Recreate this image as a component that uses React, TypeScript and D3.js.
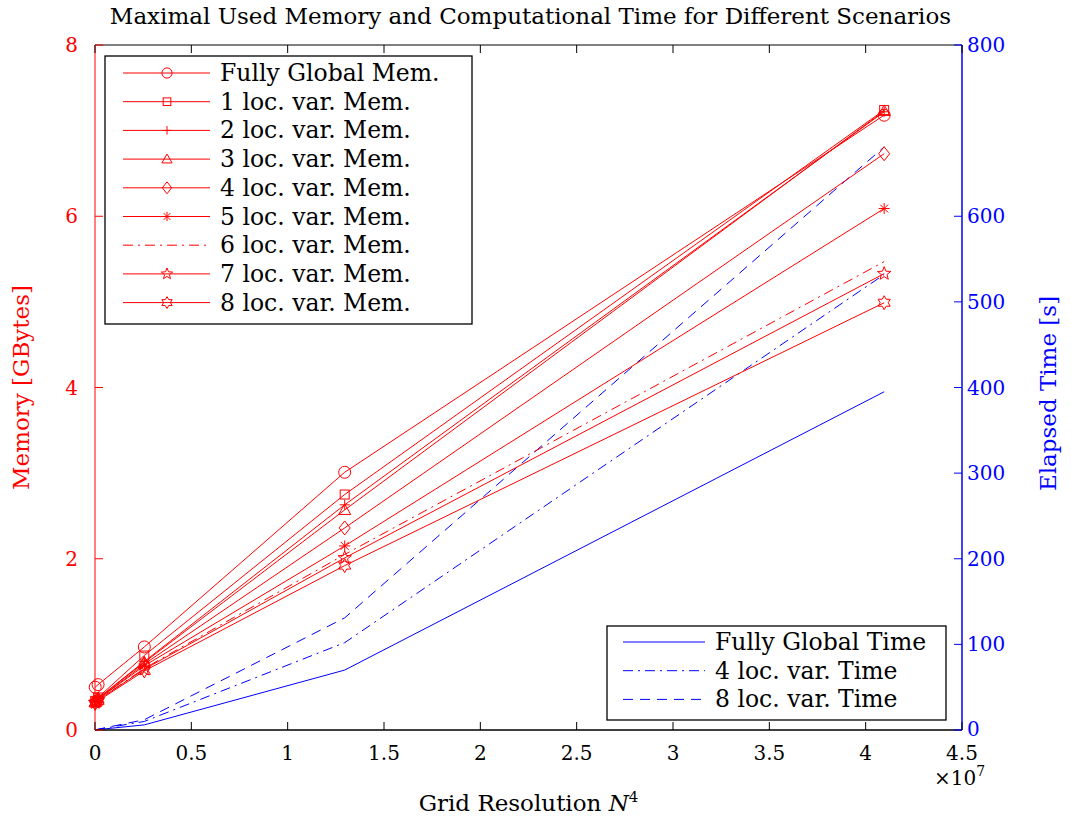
import React from "react";
import * as d3 from "d3";

const gridPoints = [1e4, 1.6e5, 2.56e6, 1.296e7, 4.096e7];

const memFullyGlobal = [0.5, 0.53, 0.97, 3.01, 7.18];
const memLoc1 = [0.34, 0.38, 0.87, 2.75, 7.24];
const memLoc2 = [0.33, 0.37, 0.8, 2.63, 7.22];
const memLoc3 = [0.33, 0.37, 0.79, 2.57, 7.23];
const memLoc4 = [0.33, 0.36, 0.77, 2.36, 6.73];
const memLoc5 = [0.32, 0.36, 0.75, 2.15, 6.09];
const memLoc6 = [0.32, 0.35, 0.72, 2.05, 5.47];
const memLoc7 = [0.32, 0.35, 0.71, 2.01, 5.33];
const memLoc8 = [0.31, 0.34, 0.69, 1.92, 4.99];

const timeFullyGlobal = [0, 0.5, 6, 70, 395];
const timeLoc4 = [0, 0.8, 10, 102, 532];
const timeLoc8 = [0, 0.9, 12, 131, 681];

const memLabels = [
  "Fully Global Mem.",
  "1 loc. var. Mem.",
  "2 loc. var. Mem.",
  "3 loc. var. Mem.",
  "4 loc. var. Mem.",
  "5 loc. var. Mem.",
  "6 loc. var. Mem.",
  "7 loc. var. Mem.",
  "8 loc. var. Mem.",
];
const memMarkers = ["circle", "square", "plus", "triangle", "diamond", "asterisk", "none", "pentagram", "hexagram"];
const memDash = ["", "", "", "", "", "", "dashdot", "", ""];
const timeLabels = ["Fully Global Time", "4 loc. var. Time", "8 loc. var. Time"];
const timeDash = ["", "dashdot", "dashed"];

const xTicks = [0, 0.5e7, 1e7, 1.5e7, 2e7, 2.5e7, 3e7, 3.5e7, 4e7, 4.5e7];
const memTicks = [0, 2, 4, 6, 8];
const timeTicks = [0, 100, 200, 300, 400, 500, 600, 800];

const W = 1071;
const H = 820;
const M = { left: 95, right: 962, top: 45, bottom: 730 };
const RED = "#ff0000";
const BLUE = "#0000ff";
const FONT = "'DejaVu Serif', 'Liberation Serif', serif";

const dashMap: Record<string, string | undefined> = {
  "": undefined,
  dashdot: "10,5,2,5",
  dashed: "10,7",
};

function starPath(n: number, rOut: number, rIn: number) {
  const pts: [number, number][] = [];
  for (let i = 0; i < 2 * n; i++) {
    const a = -Math.PI / 2 + (i * Math.PI) / n;
    const r = i % 2 === 0 ? rOut : rIn;
    pts.push([r * Math.cos(a), r * Math.sin(a)]);
  }
  return "M" + pts.map((p) => p[0].toFixed(2) + "," + p[1].toFixed(2)).join("L") + "Z";
}

function Marker({ type, x, y, color, s = 1 }: { type: string; x: number; y: number; color: string; s?: number }) {
  const common = { fill: "none", stroke: color, strokeWidth: 1 };
  const t = `translate(${x},${y})`;
  switch (type) {
    case "circle":
      return <circle cx={x} cy={y} r={6 * s} {...common} />;
    case "square":
      return <rect x={x - 4.5 * s} y={y - 4.5 * s} width={9 * s} height={9 * s} {...common} />;
    case "plus":
      return <path transform={t} d={`M${-5 * s},0H${5 * s}M0,${-5 * s}V${5 * s}`} {...common} />;
    case "triangle":
      return <path transform={t} d={`M0,${-6 * s}L${6 * s},${4.5 * s}L${-6 * s},${4.5 * s}Z`} {...common} />;
    case "diamond":
      return <path transform={t} d={`M0,${-7 * s}L${5.5 * s},0L0,${7 * s}L${-5.5 * s},0Z`} {...common} />;
    case "asterisk": {
      const r = 5.5 * s;
      const d = r * 0.72;
      return (
        <path
          transform={t}
          d={`M${-r},0H${r}M0,${-r}V${r}M${-d},${-d}L${d},${d}M${-d},${d}L${d},${-d}`}
          {...common}
        />
      );
    }
    case "pentagram":
      return <path transform={t} d={starPath(5, 7 * s, 3 * s)} {...common} />;
    case "hexagram":
      return <path transform={t} d={starPath(6, 7 * s, 4 * s)} {...common} />;
    default:
      return null;
  }
}

export default function App() {
  const x = d3.scaleLinear().domain([0, 4.5e7]).range([M.left, M.right]);
  const yMem = d3.scaleLinear().domain([0, 8]).range([M.bottom, M.top]);
  const yTime = d3.scaleLinear().domain([0, 800]).range([M.bottom, M.top]);

  const memSeries = [memFullyGlobal, memLoc1, memLoc2, memLoc3, memLoc4, memLoc5, memLoc6, memLoc7, memLoc8];
  const timeSeries = [timeFullyGlobal, timeLoc4, timeLoc8];

  const lineMem = d3
    .line<number>()
    .x((_, i) => x(gridPoints[i]))
    .y((d) => yMem(d));
  const lineTime = d3
    .line<number>()
    .x((_, i) => x(gridPoints[i]))
    .y((d) => yTime(d));

  const tickLen = 8;
  const legRowH = 28.7;
  const tickFs = 20;
  const legFs = 23.5;

  return (
    <svg width={W} height={H} style={{ display: "block", position: "absolute", left: 0, top: 0 }} fontFamily={FONT}>
      <rect width={W} height={H} fill="#fff" />
      <text x={(M.left + M.right) / 2 + 2} y={24} textAnchor="middle" fontSize={23} fill="#000">
        Maximal Used Memory and Computational Time for Different Scenarios
      </text>

      {timeSeries.map((s, i) => (
        <path key={"t" + i} d={lineTime(s) || ""} fill="none" stroke={BLUE} strokeWidth={1} strokeDasharray={dashMap[timeDash[i]]} />
      ))}

      {memSeries.map((s, i) => (
        <path key={"m" + i} d={lineMem(s) || ""} fill="none" stroke={RED} strokeWidth={1} strokeDasharray={dashMap[memDash[i]]} />
      ))}
      {memSeries.map((s, i) =>
        s.map((v, j) => <Marker key={`mk${i}-${j}`} type={memMarkers[i]} x={x(gridPoints[j])} y={yMem(v)} color={RED} />)
      )}

      <line x1={M.left} x2={M.right} y1={M.top} y2={M.top} stroke="#000" strokeWidth={1} />
      <line x1={M.left} x2={M.right} y1={M.bottom} y2={M.bottom} stroke="#000" strokeWidth={1.5} />
      <line x1={M.left} x2={M.left} y1={M.top} y2={M.bottom} stroke={RED} strokeWidth={1} />
      <line x1={M.right} x2={M.right} y1={M.top} y2={M.bottom} stroke={BLUE} strokeWidth={1.5} />

      {xTicks.map((t, i) => (
        <g key={"xt" + i}>
          <line x1={x(t)} x2={x(t)} y1={M.bottom} y2={M.bottom - tickLen} stroke="#000" />
          <line x1={x(t)} x2={x(t)} y1={M.top} y2={M.top + tickLen} stroke="#000" />
          <text x={x(t)} y={760} textAnchor="middle" fontSize={tickFs} fill="#000">
            {d3.format("~g")(t / 1e7)}
          </text>
        </g>
      ))}
      <text x={934} y={785} fontSize={tickFs} fill="#000">
        ×10
        <tspan dy={-9} fontSize={14}>
          7
        </tspan>
      </text>
      <text x={(M.left + M.right) / 2} y={811} textAnchor="middle" fontSize={23} fill="#000">
        Grid Resolution <tspan fontStyle="italic">N</tspan>
        <tspan dy={-9} fontSize={15}>
          4
        </tspan>
      </text>

      {memTicks.map((t, i) => (
        <g key={"ml" + i}>
          <line x1={M.left} x2={M.left + tickLen} y1={yMem(t)} y2={yMem(t)} stroke={RED} />
          <text x={78} y={yMem(t) + 7} textAnchor="end" fontSize={tickFs} fill={RED}>
            {t}
          </text>
        </g>
      ))}
      <text transform={`translate(29,${(M.top + M.bottom) / 2}) rotate(-90)`} textAnchor="middle" fontSize={23} fill={RED}>
        Memory [GBytes]
      </text>

      {timeTicks.map((t, i) => (
        <g key={"tr" + i}>
          <line x1={M.right} x2={M.right - tickLen} y1={yTime(t)} y2={yTime(t)} stroke={BLUE} />
          <text x={967} y={yTime(t) + (t === 0 ? 6 : 7)} textAnchor="start" fontSize={tickFs} fill={BLUE}>
            {t}
          </text>
        </g>
      ))}
      <text transform={`translate(1056,${(M.top + M.bottom) / 2 + 6}) rotate(-90)`} textAnchor="middle" fontSize={23} fill={BLUE}>
        Elapsed Time [s]
      </text>

      <rect x={105} y={56} width={367} height={268} fill="#fff" stroke="#000" strokeWidth={1.3} />
      {memLabels.map((lab, i) => {
        const cy = 73 + i * legRowH;
        return (
          <g key={"lm" + i}>
            <line x1={123} x2={210} y1={cy} y2={cy} stroke={RED} strokeDasharray={dashMap[memDash[i]]} />
            <Marker type={memMarkers[i]} x={167} y={cy} color={RED} s={0.85} />
            <text x={220} y={cy + 8} fontSize={legFs} fill="#000">
              {lab}
            </text>
          </g>
        );
      })}

      <rect x={607} y={626} width={339} height={94} fill="#fff" stroke="#000" strokeWidth={1.3} />
      {timeLabels.map((lab, i) => {
        const cy = 642 + i * 28.7;
        return (
          <g key={"lt" + i}>
            <line x1={623} x2={705} y1={cy} y2={cy} stroke={BLUE} strokeDasharray={dashMap[timeDash[i]]} />
            <text x={715} y={cy + 8} fontSize={legFs} fill="#000">
              {lab}
            </text>
          </g>
        );
      })}
    </svg>
  );
}
